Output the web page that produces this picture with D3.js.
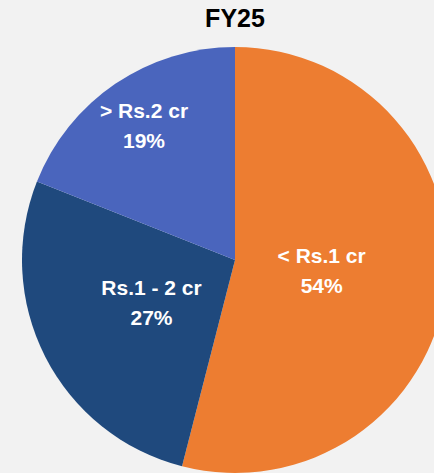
<!DOCTYPE html>
<html>
<head>
<meta charset="utf-8">
<script src="https://cdn.jsdelivr.net/npm/d3@7"></script>
<style>
  body { margin: 0; background: #f2f2f2; overflow: hidden; }
  svg { display: block; }
</style>
</head>
<body>
<svg></svg>
<script>
// data
const categories = ["< Rs.1 cr", "Rs.1 - 2 cr", "> Rs.2 cr"];
const shares = [54, 27, 19];
const colors = ["#ed7d31", "#1f497d", "#4a65bd"];
const title = "FY25";

const width = 434;
const height = 473;
const cx = 235, cy = 260;
const radius = 213;
// label distance from centre, as fraction of radius (one per slice)
const labelPos = [0.41, 0.44, 0.76];

const svg = d3.select("svg")
    .attr("width", width)
    .attr("height", height);

svg.append("rect")
    .attr("width", width)
    .attr("height", height)
    .attr("fill", "#f2f2f2");

svg.append("text")
    .attr("x", cx)
    .attr("y", 27)
    .attr("text-anchor", "middle")
    .attr("font-family", "Liberation Sans, Arial, sans-serif")
    .attr("font-weight", "bold")
    .attr("font-size", 25)
    .attr("fill", "#000")
    .text(title);

const pie = d3.pie().sort(null).value(d => d);
const arcs = pie(shares);

const arc = d3.arc().innerRadius(0).outerRadius(radius);

const g = svg.append("g")
    .attr("transform", `translate(${cx},${cy})`);

g.selectAll("path")
    .data(arcs)
    .enter()
    .append("path")
    .attr("d", arc)
    .attr("fill", (d, i) => colors[i]);

const labels = g.selectAll("text.lbl")
    .data(arcs)
    .enter()
    .append("text")
    .attr("class", "lbl")
    .attr("transform", (d, i) => {
        const r = radius * labelPos[i];
        const c = d3.arc().innerRadius(r).outerRadius(r).centroid(d);
        return `translate(${c[0]},${c[1]})`;
    })
    .attr("text-anchor", "middle")
    .attr("font-family", "Liberation Sans, Arial, sans-serif")
    .attr("font-weight", "bold")
    .attr("font-size", 21)
    .attr("fill", "#fff");

labels.append("tspan")
    .attr("x", 0)
    .attr("y", -8)
    .text((d, i) => categories[i]);

labels.append("tspan")
    .attr("x", 0)
    .attr("y", 22)
    .text((d, i) => shares[i] + "%");
</script>
</body>
</html>
